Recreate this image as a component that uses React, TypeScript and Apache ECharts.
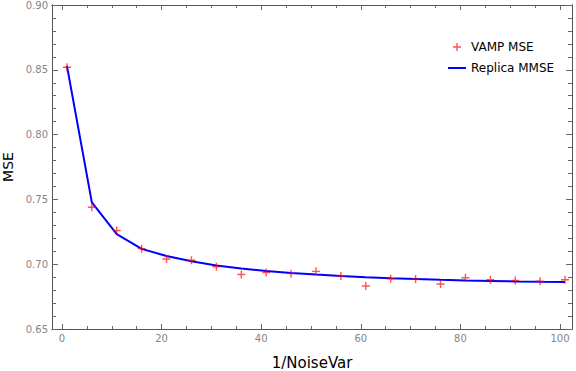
import React, { useEffect, useRef } from "react";
import * as echarts from "echarts";

const noiseInv = [1, 6, 11, 16, 21, 26, 31, 36, 41, 46, 51, 56, 61, 66, 71, 76, 81, 86, 91, 96, 101];
const vampMse = [0.852, 0.744, 0.726, 0.712, 0.704, 0.703, 0.698, 0.692, 0.6935, 0.6927, 0.6945, 0.6909, 0.6832, 0.6888, 0.6886, 0.6847, 0.6896, 0.688, 0.6875, 0.6868, 0.688];
const replicaMmse = [0.853, 0.7477, 0.7232, 0.7118, 0.7063, 0.7022, 0.699, 0.6967, 0.6948, 0.6933, 0.692, 0.6909, 0.69, 0.6892, 0.6886, 0.688, 0.6875, 0.6871, 0.6867, 0.6864, 0.6862];
const xMajorTicks = [0, 20, 40, 60, 80, 100];
const xMinorTicks = [5, 10, 15, 25, 30, 35, 45, 50, 55, 65, 70, 75, 85, 90, 95];
const yMajorTicks = [0.65, 0.7, 0.75, 0.8, 0.85, 0.9];
const yMinorTicks = [0.66, 0.67, 0.68, 0.69, 0.71, 0.72, 0.73, 0.74, 0.76, 0.77, 0.78, 0.79, 0.81, 0.82, 0.83, 0.84, 0.86, 0.87, 0.88, 0.89];

const PLUS = "path://M3.3,0H4.7V3.3H8V4.7H4.7V8H3.3V4.7H0V3.3H3.3Z";
const LINE_ICON = "path://M0,0H18V2H0Z";
const FONT = "DejaVu Sans";
const FRAME = "#555555";
const TICK = "#666666";

export default function App() {
  const ref = useRef<HTMLDivElement>(null);
  useEffect(() => {
    if (!ref.current) return;
    const chart = echarts.init(ref.current, null, { renderer: "svg" });
    const xBase = { type: "value", min: -2, max: 102.4, splitLine: { show: false } };
    const yBase = { type: "value", min: 0.65, max: 0.9, splitLine: { show: false } };
    const mkX = (pos: string, values: number[], len: number, labels: boolean, extra: any = {}) => ({
      ...xBase,
      position: pos,
      axisLine: { show: true, onZero: false, lineStyle: { color: FRAME, width: 1 } },
      axisTick: { show: true, inside: true, length: len, customValues: values, lineStyle: { color: TICK } },
      axisLabel: labels
        ? { show: true, customValues: values, margin: 4, color: "#858585", fontSize: 10, fontFamily: FONT }
        : { show: false },
      ...extra,
    });
    const mkY = (pos: string, values: number[], len: number, labels: boolean, extra: any = {}) => ({
      ...yBase,
      position: pos,
      axisLine: { show: true, onZero: false, lineStyle: { color: FRAME, width: 1 } },
      axisTick: { show: true, inside: true, length: len, customValues: values, lineStyle: { color: TICK } },
      axisLabel: labels
        ? {
            show: true,
            customValues: values,
            margin: 4,
            color: "#858585",
            fontSize: 10,
            fontFamily: FONT,
            formatter: (v: number) => v.toFixed(2),
          }
        : { show: false },
      ...extra,
    });
    chart.setOption({
      animation: false,
      backgroundColor: "#ffffff",
      grid: { left: 52, right: 4, top: 5, bottom: 42, containLabel: false, outerBoundsMode: "none" },
      xAxis: [
        mkX("bottom", xMajorTicks, 5, true, {
          name: "1/NoiseVar",
          nameLocation: "middle",
          nameGap: 26,
          nameTextStyle: { fontSize: 15, color: "#000000", fontFamily: FONT },
        }),
        mkX("bottom", xMinorTicks, 3, false),
        mkX("top", xMajorTicks, 5, false),
        mkX("top", xMinorTicks, 3, false),
      ],
      yAxis: [
        mkY("left", yMajorTicks, 6, true, {
          name: "MSE",
          nameLocation: "middle",
          nameGap: 33,
          nameRotate: 90,
          nameTextStyle: { fontSize: 14, color: "#000000", fontFamily: FONT },
        }),
        mkY("left", yMinorTicks, 4, false),
        mkY("right", yMajorTicks, 6, false),
        mkY("right", yMinorTicks, 4, false),
      ],
      legend: {
        orient: "vertical",
        left: 443,
        top: 36,
        itemWidth: 18,
        itemHeight: 8,
        itemGap: 9,
        symbolKeepAspect: true,
        textStyle: { fontSize: 12, color: "#000000", fontFamily: FONT },
        data: [
          { name: "VAMP MSE", icon: PLUS, itemStyle: { color: "rgba(255,0,0,0.85)" } },
          { name: "Replica MMSE", icon: LINE_ICON, itemStyle: { color: "#0000ff" } },
        ],
      },
      series: [
        {
          name: "Replica MMSE",
          type: "line",
          xAxisIndex: 0,
          yAxisIndex: 0,
          data: noiseInv.map((x, i) => [x, replicaMmse[i]]),
          showSymbol: false,
          symbol: "none",
          lineStyle: { color: "#0000ff", width: 2 },
          itemStyle: { color: "#0000ff" },
          z: 2,
        },
        {
          name: "VAMP MSE",
          type: "scatter",
          xAxisIndex: 0,
          yAxisIndex: 0,
          data: noiseInv.map((x, i) => [x, vampMse[i]]),
          symbol: PLUS,
          symbolSize: 8,
          itemStyle: { color: "rgba(255,0,0,0.85)" },
          z: 3,
        },
      ],
    });
    return () => chart.dispose();
  }, []);
  return (
    <div
      ref={ref}
      style={{ position: "absolute", left: 0, top: 0, width: 576, height: 371 }}
    />
  );
}
